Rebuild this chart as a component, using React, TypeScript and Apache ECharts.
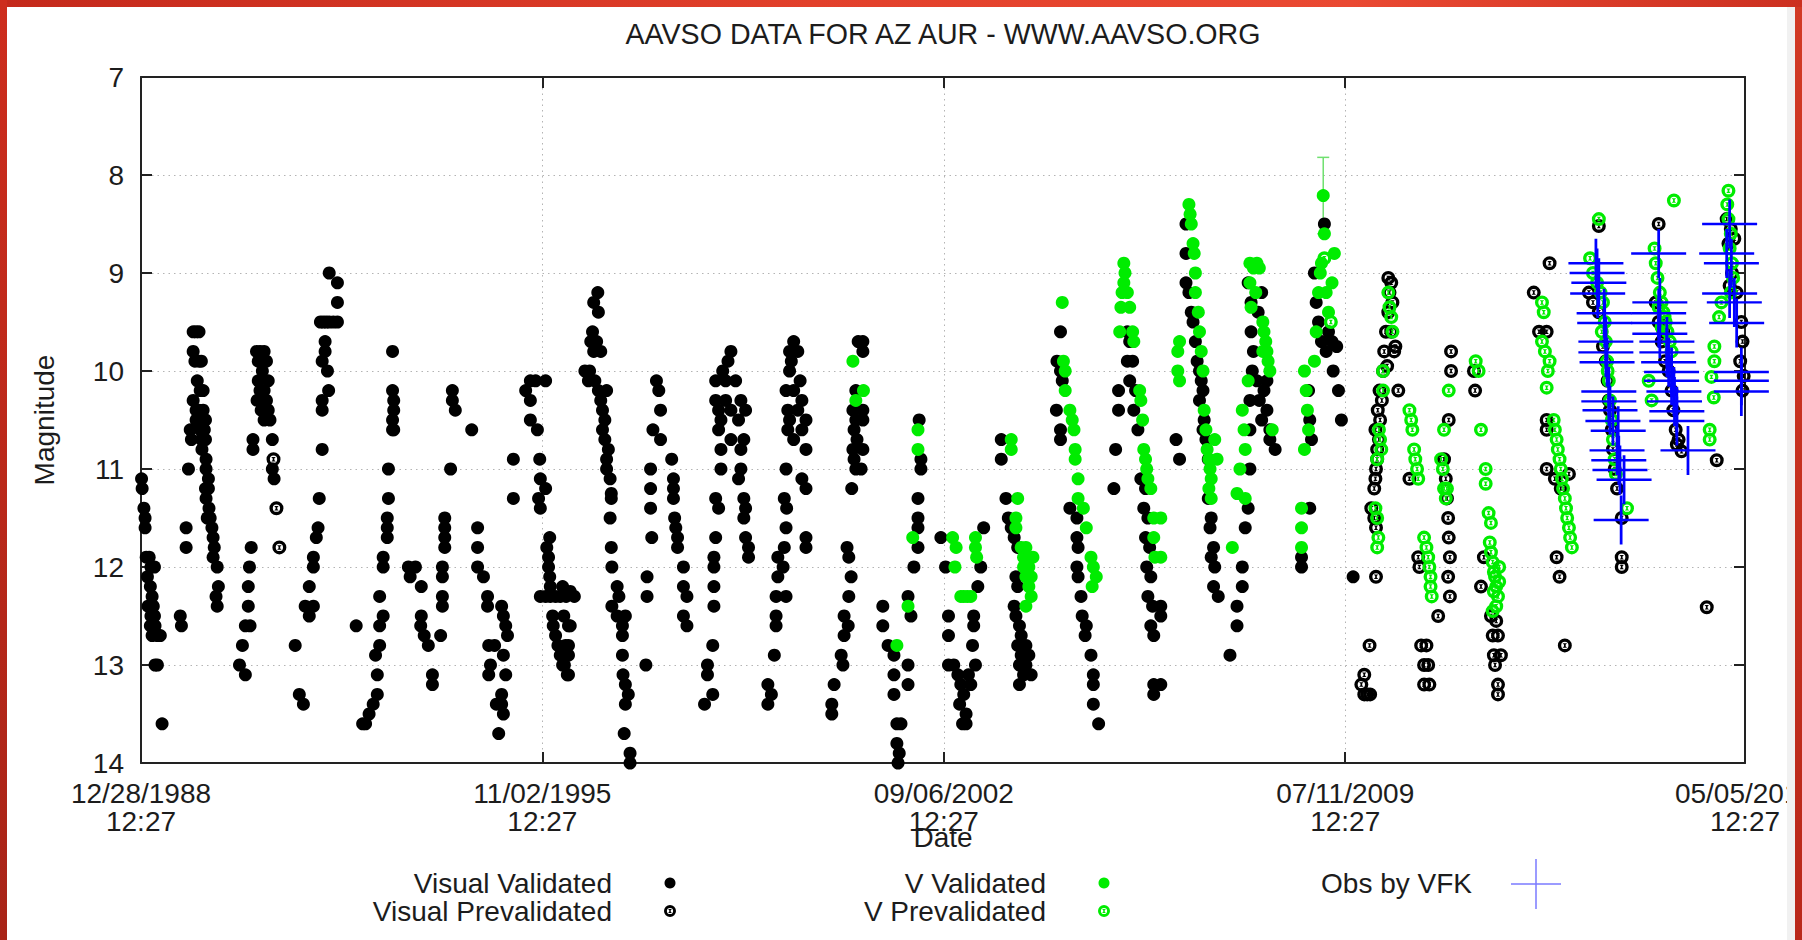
import React, { useEffect, useRef } from "react";
import * as echarts from "echarts";

const TITLE = "AAVSO DATA FOR AZ AUR - WWW.AAVSO.ORG";
const X_NAME = "Date";
const Y_NAME = "Magnitude";
const START_YEAR = 1988.9905; // 12/28/1988 12:27
const START_UTC = Date.UTC(1988, 11, 28, 12, 27);
const SPAN_DAYS = 9990; // to 05/05/2016 12:27
const TICK_DAYS = 2500;
const MAG_MIN = 7;
const MAG_MAX = 14;
const LEGEND_LABELS = ["Visual Validated", "Visual Prevalidated", "V Validated", "V Prevalidated", "Obs by VFK"];

// [decimal year, magnitude]
const visualValidated: number[][] = [
  [1989.00,11.1],[1989.01,11.2],[1989.04,11.4],[1989.06,11.5],[1989.06,11.6],[1989.08,11.9],[1989.13,11.9],[1989.16,12.0],[1989.22,12.0],[1989.10,12.1],[1989.15,12.2],[1989.18,12.3],[1989.11,12.4],[1989.20,12.4],[1989.16,12.5],[1989.22,12.5],[1989.15,12.6],[1989.23,12.6],[1989.18,12.7],[1989.27,12.7],[1989.32,12.7],[1989.23,13.0],[1989.27,13.0],[1989.35,13.6],
  [1989.66,12.5],[1989.68,12.6],[1989.76,11.6],[1989.76,11.8],[1989.80,11.0],[1989.83,10.6],[1989.85,10.7],
  [1989.88,9.6],[1989.93,9.6],[1989.98,9.6],[1989.88,9.8],[1989.91,9.9],[1989.98,9.9],[1990.02,9.9],[1989.95,10.1],[1989.88,10.3],[1990.00,10.2],[1990.05,10.2],[1989.93,10.4],[1989.98,10.4],[1990.05,10.4],[1989.93,10.5],[1990.02,10.5],[1990.09,10.5],[1990.00,10.6],[1990.07,10.6],[1990.02,10.7],[1990.09,10.7],[1990.03,10.8],[1990.10,10.9],[1990.10,11.0],[1990.14,11.1],[1990.09,11.2],[1990.14,11.2],[1990.10,11.3],[1990.15,11.4],[1990.12,11.5],[1990.17,11.5],[1990.20,11.6],[1990.22,11.7],[1990.24,11.8],[1990.22,11.9],[1990.29,12.0],[1990.31,12.2],[1990.27,12.3],[1990.29,12.4],
  [1990.87,11.8],[1990.84,12.0],[1990.82,12.2],[1990.82,12.4],[1990.77,12.6],[1990.85,12.6],[1990.72,12.8],[1990.67,13.0],[1990.77,13.1],
  [1990.90,10.7],[1990.90,10.8],[1990.96,9.8],[1991.02,9.8],[1991.09,9.8],[1990.99,9.9],[1991.13,9.9],[1991.06,10.0],[1990.99,10.1],[1991.16,10.1],[1991.02,10.2],[1991.09,10.2],[1990.97,10.3],[1991.13,10.3],[1991.04,10.4],[1991.16,10.4],[1991.09,10.5],[1991.19,10.5],[1991.23,10.7],[1991.23,11.0],[1991.26,11.1],
  [1991.62,12.8],[1991.69,13.3],[1991.76,13.4],[1991.79,12.4],[1991.86,12.5],[1991.93,12.4],[1991.86,12.2],[1991.93,11.9],[1991.93,12.0],[1991.98,11.7],[1992.01,11.6],[1992.03,11.3],[1992.08,10.8],[1992.08,10.4],[1992.08,10.3],[1992.19,10.2],[1992.17,10.0],[1992.08,9.9],[1992.13,9.8],[1992.13,9.7],[1992.05,9.5],[1992.10,9.5],[1992.15,9.5],[1992.20,9.5],[1992.27,9.5],[1992.34,9.5],[1992.34,9.3],[1992.34,9.1],[1992.20,9.0],
  [1992.66,12.6],[1992.77,13.6],[1992.82,13.6],[1992.88,13.5],[1992.95,13.4],[1993.02,13.3],[1993.02,13.1],[1992.99,12.9],[1993.06,12.8],[1993.06,12.6],[1993.12,12.5],[1993.06,12.3],[1993.12,12.0],[1993.12,11.9],[1993.19,11.7],[1993.19,11.6],[1993.19,11.5],[1993.21,11.3],[1993.21,11.0],[1993.28,10.2],[1993.30,10.3],[1993.30,10.4],[1993.28,10.5],[1993.30,10.6],[1993.28,10.6],[1993.28,9.8],
  [1993.55,12.0],[1993.67,12.0],[1993.58,12.1],[1993.77,12.2],[1993.77,12.5],[1993.76,12.6],[1993.82,12.7],[1993.89,12.8],[1993.96,13.1],[1993.96,13.2],[1994.10,12.7],[1994.13,12.4],[1994.13,12.3],[1994.13,12.1],[1994.13,12.0],[1994.17,11.8],[1994.17,11.7],[1994.17,11.6],[1994.17,11.5],[1994.27,11.0],[1994.35,10.4],[1994.30,10.3],[1994.30,10.2],[1994.63,10.6],
  [1994.73,11.6],[1994.73,11.8],[1994.73,12.0],[1994.83,12.1],[1994.90,12.3],[1994.90,12.4],[1994.92,12.8],[1995.02,12.8],[1995.17,12.9],[1994.95,13.0],[1994.92,13.1],[1995.21,13.1],[1995.14,13.3],[1995.05,13.4],[1995.14,13.4],[1995.17,13.5],[1995.09,13.7],[1995.14,12.4],[1995.17,12.5],[1995.21,12.6],[1995.24,12.7],[1995.34,10.9],[1995.34,11.3],
  [1995.63,10.1],[1995.72,10.1],[1995.89,10.1],[1995.55,10.2],[1995.63,10.3],[1995.63,10.5],[1995.75,10.6],[1995.79,10.9],[1995.80,11.1],[1995.89,11.2],[1995.77,11.3],[1995.80,11.4],[1995.96,11.7],[1995.91,11.8],[1995.94,11.9],[1995.94,12.0],[1995.96,12.1],[1995.97,12.2],[1995.80,12.3],[1995.89,12.3],[1995.97,12.3],[1996.06,12.3],[1996.14,12.3],[1996.24,12.3],[1996.38,12.3],[1996.01,12.5],[1996.02,12.6],[1996.06,12.7],[1996.10,12.8],[1996.14,12.9],[1996.21,13.0],[1996.28,13.1],[1996.31,12.6],[1996.28,12.8],
  [1996.18,12.2],[1996.31,12.25],[1996.20,12.5],[1996.28,12.6],[1996.23,12.8],[1996.28,12.9],[1996.18,13.0],[1996.26,13.1],
  [1996.78,9.2],[1996.71,9.3],[1996.79,9.4],[1996.69,9.6],[1996.66,9.7],[1996.76,9.7],[1996.71,9.8],[1996.83,9.8],[1996.56,10.0],[1996.64,10.0],[1996.73,10.1],[1996.62,10.1],[1996.79,10.2],[1996.93,10.2],[1996.83,10.3],[1996.86,10.4],[1996.90,10.5],[1996.86,10.6],[1996.90,10.7],[1996.96,10.8],[1996.93,10.9],[1996.93,11.0],[1996.99,11.1],[1997.01,11.25],[1997.01,11.3],[1996.99,11.5],[1997.01,11.8],[1997.02,12.0],[1997.11,12.2],[1997.14,12.3],[1997.02,12.4],[1997.11,12.5],[1997.25,12.5],[1997.20,12.6],[1997.20,12.7],[1997.20,12.9],[1997.21,13.1],[1997.25,13.2],[1997.30,13.3],[1997.25,13.4],[1997.23,13.7],[1997.33,13.9],[1997.33,14.0],
  [1997.78,10.1],[1997.82,10.2],[1997.85,10.4],[1997.72,10.6],[1997.85,10.7],[1997.68,11.0],[1997.68,11.2],[1997.68,11.4],[1997.70,11.7],[1997.62,12.1],[1997.62,12.3],[1997.60,13.0],
  [1998.04,10.9],[1998.07,11.1],[1998.07,11.2],[1998.07,11.3],[1998.09,11.5],[1998.11,11.6],[1998.14,11.7],[1998.14,11.8],[1998.24,12.0],[1998.24,12.2],[1998.30,12.3],[1998.24,12.5],[1998.30,12.6],
  [1999.05,9.8],[1999.00,9.9],[1998.91,10.0],[1998.79,10.1],[1998.96,10.1],[1999.13,10.1],[1998.79,10.3],[1998.96,10.3],[1999.22,10.3],[1998.84,10.4],[1999.05,10.4],[1999.30,10.4],[1998.88,10.5],[1999.18,10.5],[1998.84,10.6],[1999.05,10.7],[1999.27,10.7],[1998.88,10.8],[1999.22,10.8],[1998.88,11.0],[1999.22,11.0],[1999.18,11.1],[1998.79,11.3],[1999.27,11.3],[1998.84,11.4],[1999.30,11.4],[1999.27,11.5],[1998.79,11.7],[1999.30,11.7],[1999.35,11.8],[1999.35,11.9],[1998.76,11.9],[1998.76,12.0],[1998.76,12.2],[1998.76,12.4],[1998.74,12.8],[1998.65,13.0],[1998.65,13.1],[1998.74,13.3],[1998.60,13.4],
  [2000.12,9.7],[2000.05,9.8],[2000.19,9.8],[2000.08,9.9],[2000.05,10.0],[2000.23,10.1],[1999.99,10.2],[2000.12,10.2],[2000.26,10.3],[2000.02,10.4],[2000.19,10.4],[2000.33,10.5],[2000.05,10.5],[2000.02,10.6],[2000.26,10.6],[2000.12,10.7],[2000.33,10.8],[1999.99,11.0],[2000.26,11.1],[2000.33,11.2],[1999.96,11.3],[2000.00,11.4],[1999.99,11.6],[2000.33,11.7],[2000.33,11.8],[1999.96,11.8],[1999.85,11.9],[1999.94,12.0],[1999.85,12.1],[1999.82,12.3],[1999.99,12.3],[1999.82,12.5],[1999.82,12.6],[1999.79,12.9],[1999.68,13.2],[1999.74,13.3],[1999.68,13.4],
  [2001.22,9.7],[2001.30,9.7],[2001.30,9.8],[2001.18,10.2],[2001.13,10.4],[2001.18,10.5],[2001.30,10.4],[2001.30,10.5],[2001.15,10.6],[2001.20,10.7],[2001.13,10.8],[2001.30,10.8],[2001.15,10.9],[2001.18,11.0],[2001.27,11.0],[2001.11,11.2],[2001.03,11.8],[2001.06,11.9],[2001.10,12.1],[2001.06,12.3],[2000.98,12.5],[2001.05,12.6],[2000.98,12.7],[2000.93,12.9],[2000.96,13.0],[2000.81,13.2],[2000.77,13.4],[2000.77,13.5],
  [2001.64,12.4],[2001.64,12.6],[2001.73,12.8],[2001.83,12.9],[2001.83,13.1],[2001.83,13.3],[2001.88,13.6],[2001.95,13.6],[2001.88,13.8],[2001.92,13.9],[2001.90,14.0],[2002.07,13.0],[2002.07,13.2],[2002.07,12.3],[2002.12,12.5],[2002.17,12.0],[2002.24,11.3],[2002.24,11.5],[2002.24,11.6],[2002.24,11.8],[2002.29,10.9],[2002.29,11.0],[2002.26,10.5],
  [2002.63,11.7],[2002.71,12.0],[2002.76,12.5],[2002.76,12.7],[2002.76,13.0],[2002.85,13.0],[2002.92,13.1],[2002.97,13.2],[2003.02,13.3],[2002.95,13.4],[2003.06,13.5],[2003.00,13.6],[2003.06,13.6],[2003.14,13.2],[2003.17,12.8],[2003.19,12.5],[2003.19,12.6],[2003.26,12.2],[2003.31,12.0],[2003.36,11.6],[2003.22,13.0],[2003.10,13.1],
  [2003.66,10.7],[2003.66,10.9],[2003.74,11.3],[2003.78,11.5],[2003.83,11.6],[2003.88,11.7],[2003.94,11.8],[2003.91,12.1],[2003.94,12.2],[2003.88,12.4],[2003.91,12.5],[2003.97,12.6],[2004.00,12.7],[2003.94,12.8],[2004.08,12.8],[2004.00,12.9],[2004.13,12.9],[2003.97,13.0],[2004.08,13.0],[2004.04,13.1],[2003.97,13.2],[2004.17,13.1],
  [2004.67,9.6],[2004.61,9.9],[2004.67,10.0],[2004.70,10.1],[2004.60,10.4],[2004.67,10.6],[2004.67,10.7],[2004.83,11.4],[2004.95,11.5],[2004.95,11.7],[2004.97,11.8],[2004.95,12.0],[2004.97,12.1],[2005.02,12.3],[2005.04,12.5],[2005.11,12.6],[2005.09,12.7],[2005.19,12.9],[2005.23,13.1],[2005.23,13.2],[2005.23,13.4],[2005.32,13.6],
  [2005.81,9.6],[2005.85,9.7],[2005.81,9.9],[2005.90,9.9],[2005.85,10.1],[2005.95,10.2],[2005.66,10.2],[2005.66,10.4],[2005.92,10.4],[2005.99,10.6],[2005.61,10.8],[2005.58,11.2],[2006.04,11.1],[2006.12,11.2],[2006.09,11.4],[2006.16,11.5],[2006.12,11.7],[2006.19,11.8],[2006.14,12.0],[2006.21,12.1],[2006.16,12.3],[2006.24,12.4],[2006.21,12.6],[2006.26,12.7],[2006.26,13.2],[2006.26,13.3],[2006.38,12.4],[2006.38,12.5],[2006.38,13.2],
  [2006.64,10.7],[2006.70,10.9],[2006.81,8.5],[2006.81,8.8],[2006.81,9.1],[2006.86,9.2],[2006.90,9.4],[2006.93,9.5],[2006.97,9.7],[2007.00,9.9],[2007.04,10.0],[2007.07,10.1],[2007.10,10.2],[2007.04,10.3],[2007.12,10.5],[2007.10,10.6],[2007.15,10.7],[2007.19,10.9],[2007.19,11.3],[2007.24,11.5],[2007.22,11.6],[2007.28,11.8],[2007.24,11.9],[2007.30,12.0],[2007.28,12.2],[2007.36,12.3],
  [2007.56,12.9],[2007.68,12.4],[2007.68,12.6],[2007.77,12.0],[2007.77,12.2],[2007.82,11.6],[2007.87,11.4],[2007.90,11.0],[2007.90,10.6],[2007.90,10.3],[2007.87,9.1],[2007.92,9.3],[2007.92,9.6],[2007.96,9.8],[2007.94,10.0],[2008.04,9.4],[2008.10,9.2],[2008.02,10.1],[2008.06,10.3],[2008.10,10.5],[2008.14,10.2],[2008.19,10.4],[2008.24,10.6],[2008.24,10.7],[2008.33,10.8],[2008.19,10.1],
  [2008.78,11.9],[2008.78,12.0],[2008.92,11.4],[2008.90,10.2],[2008.92,10.5],[2008.95,10.7],[2009.00,9.0],[2009.03,9.3],[2009.07,9.5],[2009.12,9.7],[2009.17,8.5],[2009.20,9.8],[2009.24,9.6],[2009.30,9.7],[2009.32,10.0],[2009.41,10.2],[2009.46,10.5],[2009.38,9.75],
  [2009.66,12.1]
];

const visualPrevalidated: number[][] = [
  [1991.25,10.9],[1991.30,11.4],[1991.35,11.8],
  [2009.94,12.8],[2009.80,13.2],[2009.85,13.1],[2009.90,13.3],[2009.95,13.3],[2009.85,13.3],[2010.05,12.1],[2009.97,11.4],[2010.02,11.5],[2010.05,11.6],[2010.02,11.2],[2010.05,11.0],[2010.07,10.8],[2010.04,10.6],[2010.08,10.4],[2010.11,10.2],[2010.17,10.0],[2010.19,9.8],[2010.22,9.6],[2010.26,9.4],[2010.28,9.2],[2010.31,9.1],[2010.26,9.05],[2010.33,9.3],[2010.31,9.6],[2010.38,9.75],[2010.36,9.8],[2010.43,10.2],[2010.24,9.95],[2010.15,10.3],[2010.12,10.5],[2010.10,10.7],[2010.07,10.9],[2010.04,11.1],
  [2010.62,11.1],[2010.77,11.9],[2010.79,12.0],[2010.82,12.8],[2010.91,12.8],[2010.87,13.0],[2010.94,13.0],[2010.87,13.2],[2010.96,13.2],[2011.11,12.5],
  [2011.33,9.8],[2011.33,10.0],[2011.29,10.5],[2011.21,10.9],[2011.24,11.1],[2011.26,11.3],[2011.28,11.5],[2011.29,11.7],[2011.31,11.9],[2011.28,12.1],[2011.31,12.3],
  [2011.72,10.0],[2011.74,10.2],[2011.89,11.9],[2011.84,12.2],[2012.01,12.5],[2012.10,12.55],[2012.04,12.7],[2012.13,12.7],[2012.06,12.9],[2012.18,12.9],[2012.08,13.0],[2012.13,13.2],[2012.13,13.3],
  [2013.01,8.9],[2012.74,9.2],[2012.83,9.6],[2012.96,9.6],[2012.96,10.5],[2012.96,10.6],[2012.96,11.0],[2013.10,11.1],[2013.34,11.05],[2013.13,11.9],[2013.18,12.1],[2013.27,12.8],[2013.20,11.2],
  [2013.85,8.52],[2013.68,9.2],[2013.75,9.3],[2013.85,9.4],[2013.92,9.75],[2013.97,9.9],[2014.00,10.1],[2014.02,10.3],[2014.04,10.4],[2014.07,10.6],[2014.09,10.8],[2014.12,11.0],[2014.16,11.2],[2014.24,11.5],[2014.24,11.9],[2014.24,12.0],
  [2014.87,8.5],[2014.82,9.3],[2014.87,9.5],[2014.92,9.7],[2014.98,9.9],[2015.04,10.0],[2015.09,10.2],[2015.12,10.4],[2015.16,10.6],[2015.21,10.7],[2015.26,10.82],[2015.18,10.75],[2014.95,9.6],
  [2016.03,8.45],[2016.10,8.55],[2016.06,8.7],[2016.16,8.65],[2016.12,9.0],[2016.08,9.13],[2016.20,9.2],[2016.28,9.5],[2016.30,9.7],[2016.26,9.9],[2016.32,10.05],[2016.30,10.2],[2015.86,10.91],[2015.69,12.41]
];

const vValidated: number[][] = [
  [2001.13,9.9],[2001.18,10.3],[2001.31,10.2],
  [2001.88,12.8],[2002.07,12.4],[2002.15,11.7],[2002.24,10.6],[2002.24,10.8],
  [2002.83,11.7],[2002.89,11.8],[2002.87,12.0],[2002.97,12.3],[2003.02,12.3],[2003.08,12.3],[2003.14,12.3],[2003.22,11.7],[2003.22,11.8],[2003.24,11.9],
  [2003.83,10.7],[2003.83,10.8],[2003.94,11.3],[2003.91,11.5],[2003.91,11.6],[2004.00,11.8],[2004.04,11.9],[2004.08,11.8],[2004.04,12.0],[2004.13,12.0],[2004.08,12.1],[2004.17,12.1],[2004.13,12.2],[2004.17,12.3],[2004.08,12.4],[2004.20,11.9],
  [2004.70,9.3],[2004.72,9.9],[2004.75,10.0],[2004.75,10.2],[2004.83,10.4],[2004.87,10.5],[2004.90,10.6],[2004.92,10.8],[2004.92,10.9],[2004.97,11.1],[2004.97,11.3],[2005.06,11.4],[2005.11,11.6],[2005.19,11.9],[2005.23,12.0],[2005.28,12.1],[2005.21,12.2],
  [2005.75,8.9],[2005.77,9.0],[2005.75,9.1],[2005.72,9.2],[2005.81,9.2],[2005.70,9.35],[2005.85,9.35],[2005.68,9.6],[2005.90,9.6],[2005.92,9.7],[2006.02,10.2],[2006.04,10.3],[2006.07,10.5],[2006.09,10.8],[2006.12,10.9],[2006.14,11.0],[2006.16,11.1],[2006.21,11.2],[2006.26,11.5],[2006.26,11.7],[2006.28,11.9],[2006.38,11.5],[2006.38,11.9],
  [2006.70,9.7],[2006.67,9.8],[2006.70,10.1],[2006.67,10.0],[2006.86,8.3],[2006.88,8.4],[2006.90,8.5],[2006.93,8.7],[2006.95,8.8],[2006.97,9.0],[2006.97,9.2],[2007.02,9.4],[2007.04,9.6],[2007.07,9.8],[2007.10,10.0],[2007.12,10.4],[2007.15,10.6],[2007.17,10.8],[2007.20,10.9],[2007.22,11.0],[2007.24,11.1],[2007.20,11.2],[2007.24,11.3],[2007.30,10.7],[2007.34,10.9],
  [2007.60,11.8],[2007.68,11.25],[2007.82,11.3],[2007.73,11.0],[2007.77,10.4],[2007.80,10.6],[2007.82,10.8],[2007.87,10.1],[2007.90,8.9],[2007.96,8.95],[2008.02,8.9],[2008.06,8.95],[2007.90,9.1],[2008.00,9.2],[2007.92,9.35],[2008.12,9.5],[2008.14,9.6],[2008.17,9.7],[2008.19,9.8],[2008.21,9.9],[2008.24,10.0],[2008.28,10.6],[2008.12,9.8],
  [2008.78,11.4],[2008.78,11.6],[2008.78,11.8],[2008.83,10.0],[2008.86,10.2],[2008.88,10.4],[2008.90,10.6],[2008.83,10.8],[2009.00,9.9],[2009.03,9.6],[2009.07,9.2],[2009.10,9.0],[2009.12,8.9],[2009.15,8.21],[2009.17,8.6],[2009.20,9.2],[2009.24,9.4],[2009.30,9.1],[2009.34,8.8]
];

const vPrevalidated: number[][] = [
  [2009.17,8.85],[2009.28,9.5],
  [2010.26,9.2],[2010.28,9.35],[2010.31,9.45],[2010.33,9.6],[2010.17,10.0],[2010.17,10.2],[2010.10,10.6],[2010.12,10.7],[2010.14,10.8],[2010.07,10.9],[2010.04,11.4],[2010.07,11.5],[2010.07,11.8],[2010.09,11.7],
  [2010.62,10.4],[2010.65,10.5],[2010.67,10.6],[2010.70,10.8],[2010.72,10.9],[2010.75,11.0],[2010.77,11.1],[2010.87,11.7],[2010.91,11.8],[2010.94,11.9],[2010.96,12.0],[2010.98,12.1],[2010.98,12.2],[2011.00,12.3],
  [2011.29,10.2],[2011.21,10.6],[2011.16,10.9],[2011.19,11.0],[2011.21,11.2],[2011.24,11.3],[2011.26,11.2],
  [2011.75,9.9],[2011.80,10.0],[2011.84,10.6],[2011.92,11.0],[2011.92,11.15],[2011.97,11.45],[2012.01,11.55],[2011.99,11.75],[2012.01,11.85],[2012.04,11.95],[2012.06,12.05],[2012.08,12.1],[2012.10,12.2],[2012.06,12.25],[2012.13,12.3],[2012.10,12.4],[2012.04,12.45],[2012.15,12.0],[2012.15,12.15],
  [2012.88,9.3],[2012.91,9.4],[2012.88,9.7],[2012.93,9.8],[2013.01,9.9],[2012.98,10.0],[2012.96,10.17],[2013.08,10.5],[2013.10,10.6],[2013.13,10.7],[2013.15,10.8],[2013.18,10.9],[2013.20,11.0],[2013.22,11.1],[2013.24,11.2],[2013.27,11.3],[2013.29,11.4],[2013.31,11.5],[2013.34,11.6],[2013.36,11.7],[2013.39,11.8],
  [2013.85,8.45],[2013.70,8.85],[2013.75,9.0],[2013.82,9.1],[2013.88,9.2],[2013.92,9.3],[2013.95,9.5],[2013.97,9.7],[2013.99,9.9],[2014.02,10.1],[2014.04,10.3],[2014.07,10.5],[2014.09,10.7],[2014.12,10.9],[2014.14,11.05],[2014.33,11.4],[2013.90,9.6],[2014.00,10.0],
  [2015.13,8.26],[2014.80,8.75],[2014.82,8.9],[2014.85,9.05],[2014.89,9.2],[2014.92,9.3],[2014.95,9.4],[2014.99,9.5],[2015.02,9.6],[2015.06,9.7],[2015.09,9.8],[2014.87,9.35],[2014.92,9.55],[2014.70,10.1],[2014.75,10.3],[2014.97,9.45],
  [2016.06,8.16],[2016.04,8.3],[2016.06,8.45],[2016.10,8.6],[2016.08,8.75],[2016.12,8.9],[2016.14,9.05],[2016.10,9.2],[2015.94,9.3],[2015.90,9.45],[2015.82,9.75],[2015.82,9.9],[2015.77,10.06],[2015.81,10.27],[2015.74,10.6],[2015.74,10.7]
];

const obsByVFK: number[][] = [
  [2013.80,8.9],[2013.82,9.0],[2013.85,9.1],[2013.83,9.21],[2013.94,9.41],[2013.95,9.51],[2013.97,9.7],[2013.97,9.81],[2013.99,9.91],[2014.02,10.21],[2014.02,10.31],[2014.04,10.4],[2014.09,10.51],[2014.18,10.61],[2014.16,10.81],[2014.19,10.91],[2014.21,11.01],[2014.28,11.11],[2014.23,11.52],
  [2014.87,8.8],[2014.89,9.3],[2014.87,9.41],[2014.87,9.51],[2014.89,9.62],[2015.01,9.7],[2015.01,9.81],[2015.04,9.91],[2015.09,10.01],[2015.09,10.1],[2015.13,10.21],[2015.14,10.31],[2015.18,10.41],[2015.18,10.51],[2015.37,10.81],
  [2016.08,8.5],[2016.03,8.8],[2016.11,8.9],[2016.08,9.21],[2016.16,9.3],[2016.20,9.51],[2016.28,10.01],[2016.28,10.1],[2016.28,10.21]
];

// [decimal year, magnitude, error]
const vErrorBars: number[][] = [[2009.15, 8.21, 0.39]];

const PREVAL_D =
  "M50,0 A50,50 0 1 1 50,100 A50,50 0 1 1 50,0 Z M50,24 A26,26 0 1 0 50,76 A26,26 0 1 0 50,24 Z M34,34 L66,34 L50,50 Z M50,50 L66,66 L34,66 Z M44,44 L56,44 L56,56 L44,56 Z";
const PLUS_D = "M0,47.5 H100 V52.5 H0 Z M47.5,0 H52.5 V100 H47.5 Z";

const FONT = "Liberation Sans, Arial, Helvetica, sans-serif";
const FS = 28;
const TXT = "#1c1c1c";
const GREEN = "#00ec00";
const BLUE = "#0000ff";

const toDays = (yr: number) => (yr - START_YEAR) * 365.2425;
const conv = (arr: number[][]) => arr.map((p) => [toDays(p[0]), p[1]]);

const pad = (n: number) => (n < 10 ? "0" + n : "" + n);
const fmtDate = (v: number) => {
  const d = new Date(START_UTC + Math.round(v) * 86400000);
  return pad(d.getUTCMonth() + 1) + "/" + pad(d.getUTCDate()) + "/" + d.getUTCFullYear() + "\n12:27";
};

export default function App() {
  const ref = useRef<HTMLDivElement>(null);
  useEffect(() => {
    if (!ref.current) return;
    echarts.graphic.registerShape("preval", echarts.graphic.extendPath(PREVAL_D, {}) as any);
    const chart = echarts.init(ref.current, undefined, { renderer: "svg", width: 1802, height: 940 });

    const axisLine = { show: true, onZero: false, lineStyle: { color: "#222", width: 2 } };
    const axisTick = { show: true, inside: true, length: 11, lineStyle: { color: "#222", width: 2 } };
    const split = { show: true, lineStyle: { color: "#b4b4b4", width: 1, type: [1.5, 4] as any } };
    const labelBase = { fontFamily: FONT, fontSize: FS, color: TXT };

    const scatterBase = { type: "scatter", xAxisIndex: 0, yAxisIndex: 0, clip: false, silent: true };

    const legendY1 = 883;
    const legendY2 = 911;
    const legendText = (t: string, x: number, y: number) => ({
      type: "text", x, y, style: { text: t, fill: TXT, font: `${FS}px ${FONT}`, align: "right", verticalAlign: "middle" }, z: 50
    });
    const prevMark = (x: number, y: number, c: string) => ({
      type: "preval", x: x - 6, y: y - 6, scaleX: 0.12, scaleY: 0.12, style: { fill: c }, z: 50
    });

    chart.setOption({
      animation: false,
      backgroundColor: "#ffffff",
      grid: { left: 141, top: 77, width: 1604, height: 686, containLabel: false, outerBoundsMode: "none" },
      xAxis: [
        {
          type: "value", min: 0, max: SPAN_DAYS, interval: TICK_DAYS, position: "bottom",
          axisLine, axisTick, splitLine: split,
          axisLabel: { ...labelBase, formatter: fmtDate, lineHeight: 28, margin: 16, showMinLabel: true, showMaxLabel: true, hideOverlap: false }
        },
        {
          type: "value", min: 0, max: SPAN_DAYS, interval: TICK_DAYS, position: "top",
          axisLine, axisTick, splitLine: { show: false }, axisLabel: { show: false }
        }
      ],
      yAxis: [
        {
          type: "value", min: MAG_MIN, max: MAG_MAX, interval: 1, inverse: true, position: "left",
          axisLine, axisTick, splitLine: split,
          axisLabel: { ...labelBase, margin: 17, showMinLabel: true, showMaxLabel: true }
        },
        {
          type: "value", min: MAG_MIN, max: MAG_MAX, interval: 1, inverse: true, position: "right",
          axisLine, axisTick, splitLine: { show: false }, axisLabel: { show: false }
        }
      ],
      series: [
        { ...scatterBase, name: LEGEND_LABELS[0], symbol: "circle", symbolSize: 13, itemStyle: { color: "#000", opacity: 1 }, data: conv(visualValidated) },
        { ...scatterBase, name: LEGEND_LABELS[1], symbol: "path://" + PREVAL_D, symbolSize: 14, itemStyle: { color: "#000", opacity: 1 }, data: conv(visualPrevalidated) },
        { ...scatterBase, name: LEGEND_LABELS[2], symbol: "circle", symbolSize: 13, itemStyle: { color: GREEN, opacity: 1 }, data: conv(vValidated) },
        { ...scatterBase, name: LEGEND_LABELS[3], symbol: "path://" + PREVAL_D, symbolSize: 14, itemStyle: { color: GREEN, opacity: 1 }, data: conv(vPrevalidated) },
        {
          type: "custom", xAxisIndex: 0, yAxisIndex: 0, silent: true, clip: false,
          encode: { x: 0, y: 1 },
          data: vErrorBars.map((p) => [toDays(p[0]), p[1], p[2]]),
          renderItem: (params: any, api: any) => {
            const x = api.value(0), y = api.value(1), e = api.value(2);
            const top = api.coord([x, y - e]);
            const bot = api.coord([x, y + e]);
            const st = { stroke: "#6fe06f", lineWidth: 1.5 };
            return {
              type: "group",
              children: [
                { type: "line", shape: { x1: top[0], y1: top[1], x2: bot[0], y2: bot[1] }, style: st },
                { type: "line", shape: { x1: top[0] - 6, y1: top[1], x2: top[0] + 6, y2: top[1] }, style: st },
                { type: "line", shape: { x1: bot[0] - 6, y1: bot[1], x2: bot[0] + 6, y2: bot[1] }, style: st }
              ]
            };
          }
        },
        { ...scatterBase, name: LEGEND_LABELS[4], symbol: "path://" + PLUS_D, symbolSize: [55, 49], itemStyle: { color: BLUE, opacity: 1 }, data: conv(obsByVFK) }
      ],
      graphic: [
        { type: "text", x: 943, y: 34, style: { text: TITLE, fill: TXT, font: `28.6px ${FONT}`, align: "center", verticalAlign: "middle" }, z: 50 },
        { type: "text", x: 44, y: 420, rotation: Math.PI / 2, style: { text: Y_NAME, fill: TXT, font: `${FS}px ${FONT}`, align: "center", verticalAlign: "middle" }, z: 50 },
        { type: "text", x: 943, y: 837, style: { text: X_NAME, fill: TXT, font: `${FS}px ${FONT}`, align: "center", verticalAlign: "middle" }, z: 50 },
        legendText(LEGEND_LABELS[0], 612, legendY1),
        legendText(LEGEND_LABELS[1], 612, legendY2),
        legendText(LEGEND_LABELS[2], 1046, legendY1),
        legendText(LEGEND_LABELS[3], 1046, legendY2),
        legendText(LEGEND_LABELS[4], 1472, legendY1),
        { type: "circle", shape: { cx: 670, cy: legendY1, r: 5.5 }, style: { fill: "#000" }, z: 50 },
        prevMark(670, legendY2, "#000"),
        { type: "circle", shape: { cx: 1104, cy: legendY1, r: 5.5 }, style: { fill: GREEN }, z: 50 },
        prevMark(1104, legendY2, GREEN),
        { type: "line", shape: { x1: 1511, y1: 884, x2: 1561, y2: 884 }, style: { stroke: "#7a7aff", lineWidth: 1.5 }, z: 50 },
        { type: "line", shape: { x1: 1536, y1: 859, x2: 1536, y2: 909 }, style: { stroke: "#7a7aff", lineWidth: 1.5 }, z: 50 },
        // frame
        { type: "rect", shape: { x: 1787, y: 0, width: 9, height: 940 }, style: { fill: "#f1f1f1" }, z: 100 },
        {
          type: "rect", shape: { x: 1795, y: 0, width: 7, height: 940 }, z: 101,
          style: { fill: new echarts.graphic.LinearGradient(0, 0, 0, 1, [{ offset: 0, color: "#d23a25" }, { offset: 1, color: "#b9281a" }]) }
        },
        {
          type: "rect", shape: { x: 0, y: 0, width: 1802, height: 7 }, z: 102,
          style: {
            fill: new echarts.graphic.LinearGradient(0, 0, 1, 0, [
              { offset: 0, color: "#c4291b" },
              { offset: 0.45, color: "#e2402b" },
              { offset: 0.75, color: "#ea4932" },
              { offset: 1, color: "#cc3020" }
            ])
          }
        },
        {
          type: "rect", shape: { x: 0, y: 0, width: 7, height: 940 }, z: 102,
          style: { fill: new echarts.graphic.LinearGradient(0, 0, 0, 1, [{ offset: 0, color: "#cd2d1d" }, { offset: 1, color: "#a82417" }]) }
        }
      ]
    });
    return () => chart.dispose();
  }, []);
  return <div ref={ref} style={{ position: "fixed", left: 0, top: 0, width: 1802, height: 940, background: "#fff" }} />;
}
